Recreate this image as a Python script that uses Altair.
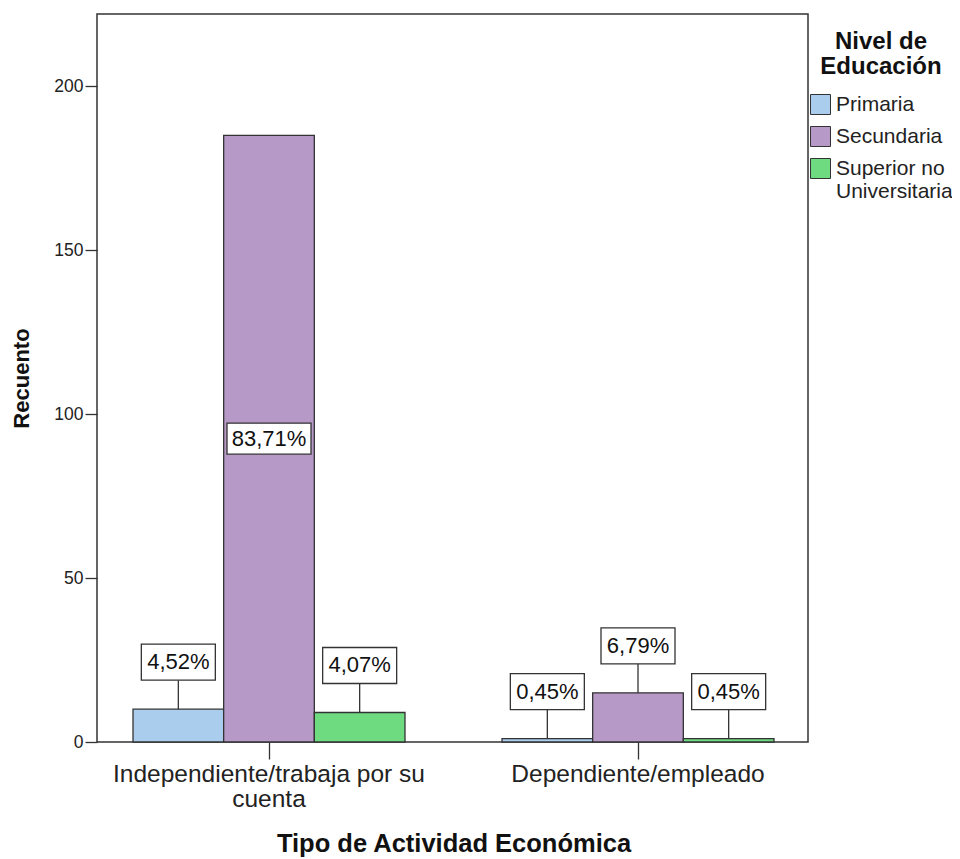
import altair as alt
import pandas as pd

# ---- data ----
categories = ["Independiente/trabaja por su cuenta", "Dependiente/empleado"]
levels = ["Primaria", "Secundaria", "Superior no Universitaria"]
counts_independiente = [10, 185, 9]
counts_dependiente = [1, 15, 1]
pct_independiente = ["4,52%", "83,71%", "4,07%"]
pct_dependiente = ["0,45%", "6,79%", "0,45%"]
colors = ["#ABCDED", "#B799C8", "#6FDB80"]

rows = []
for cat, counts, pcts in [(categories[0], counts_independiente, pct_independiente),
                          (categories[1], counts_dependiente, pct_dependiente)]:
    for lev, c, p in zip(levels, counts, pcts):
        rows.append({"cat": cat, "edu": lev, "count": c, "pct": p,
                     "inside": c >= 50, "mid": c / 2})
df = pd.DataFrame(rows)

FONT = "Liberation Sans"
INK = "#333333"

x_enc = alt.X("cat:N", sort=categories,
              scale=alt.Scale(range=[-12.5, 725.5], paddingInner=0, paddingOuter=0),
              axis=alt.Axis(title="Tipo de Actividad Económica", titleFontSize=25.5,
                            titleFontWeight="bold", titleColor="#111", titlePadding=21,
                            labelFontSize=24.5, labelColor="#222", labelPadding=3,
                            labelLineHeight=25, labelAngle=0, labelLimit=500,
                            tickSize=17, tickColor=INK, tickWidth=1.3,
                            domain=False, grid=False,
                            labelExpr="datum.label == 'Independiente/trabaja por su cuenta' ? ['Independiente/trabaja por su', 'cuenta'] : datum.label"))
xo_enc = alt.XOffset("edu:N", sort=levels,
                     scale=alt.Scale(paddingInner=0, paddingOuter=0.535))
y_scale = alt.Scale(domain=[0, 222], nice=False)

base = alt.Chart(df)

bars = base.mark_bar(stroke=INK, strokeWidth=1.3).encode(
    x=x_enc, xOffset=xo_enc,
    y=alt.Y("count:Q", scale=y_scale,
            axis=alt.Axis(values=[0, 50, 100, 150, 200], tickSize=12, tickColor=INK,
                          tickWidth=1.3, labelFontSize=17.5, labelColor="#222",
                          labelPadding=2, domain=False, grid=False,
                          title="Recuento", titleFontSize=22, titleFontWeight="bold",
                          titleColor="#111", titlePadding=20)),
    color=alt.Color("edu:N", sort=levels,
                    scale=alt.Scale(domain=levels, range=colors),
                    legend=alt.Legend(orient="none", legendX=713, legendY=16,
                                      title=["Nivel de", "Educación"], titleFontSize=24,
                                      titleFontWeight="bold", titleColor="#111",
                                      titleLineHeight=25, titleAlign="center",
                                      titleAnchor="middle", titlePadding=15,
                                      labelFontSize=21, labelColor="#222",
                                      labelLimit=300, labelOffset=5,
                                      symbolType="square", symbolSize=400,
                                      symbolStrokeColor=INK, symbolStrokeWidth=1,
                                      symbolOpacity=1, rowPadding=7, padding=0,
                                      labelExpr="datum.label == 'Superior no Universitaria' ? ['Superior no', 'Universitaria'] : datum.label")),
)

BOX_OUT = "M-1,-0.4865L1,-0.4865L1,0.4865L-1,0.4865Z"
BOX_IN = "M-1,-0.369L1,-0.369L1,0.369L-1,0.369Z"
LIFT = -47

above = base.transform_filter("!datum.inside")
inside = base.transform_filter("datum.inside")

leader = above.mark_rule(color=INK, strokeWidth=1.3, y2Offset=LIFT + 18).encode(
    x=x_enc, xOffset=xo_enc, y=alt.Y("count:Q", scale=y_scale), y2="count:Q")
box_above = above.mark_point(shape=BOX_OUT, size=74 * 74, filled=True, fill="white",
                             stroke=INK, strokeWidth=1.3, opacity=1, yOffset=LIFT).encode(
    x=x_enc, xOffset=xo_enc, y=alt.Y("count:Q", scale=y_scale))
text_above = above.mark_text(font=FONT, fontSize=22, color="#111", baseline="middle",
                             yOffset=LIFT).encode(
    x=x_enc, xOffset=xo_enc, y=alt.Y("count:Q", scale=y_scale), text="pct:N")

box_inside = inside.mark_point(shape=BOX_IN, size=84 * 84, filled=True, fill="white",
                               stroke=INK, strokeWidth=1.3, opacity=1).encode(
    x=x_enc, xOffset=xo_enc, y=alt.Y("mid:Q", scale=y_scale))
text_inside = inside.mark_text(font=FONT, fontSize=22, color="#111",
                               baseline="middle").encode(
    x=x_enc, xOffset=xo_enc, y=alt.Y("mid:Q", scale=y_scale), text="pct:N")

chart = alt.layer(bars, leader, box_above, text_above, box_inside, text_inside).properties(
    width=711, height=728,
    autosize=alt.AutoSizeParams(type="none"),
    padding={"left": 89, "top": 6, "right": 144, "bottom": 117},
    background="white",
).configure(font=FONT).configure_view(stroke=INK, strokeWidth=1.5)

chart.save("out.html", embed_options={"renderer": "svg", "actions": False})
